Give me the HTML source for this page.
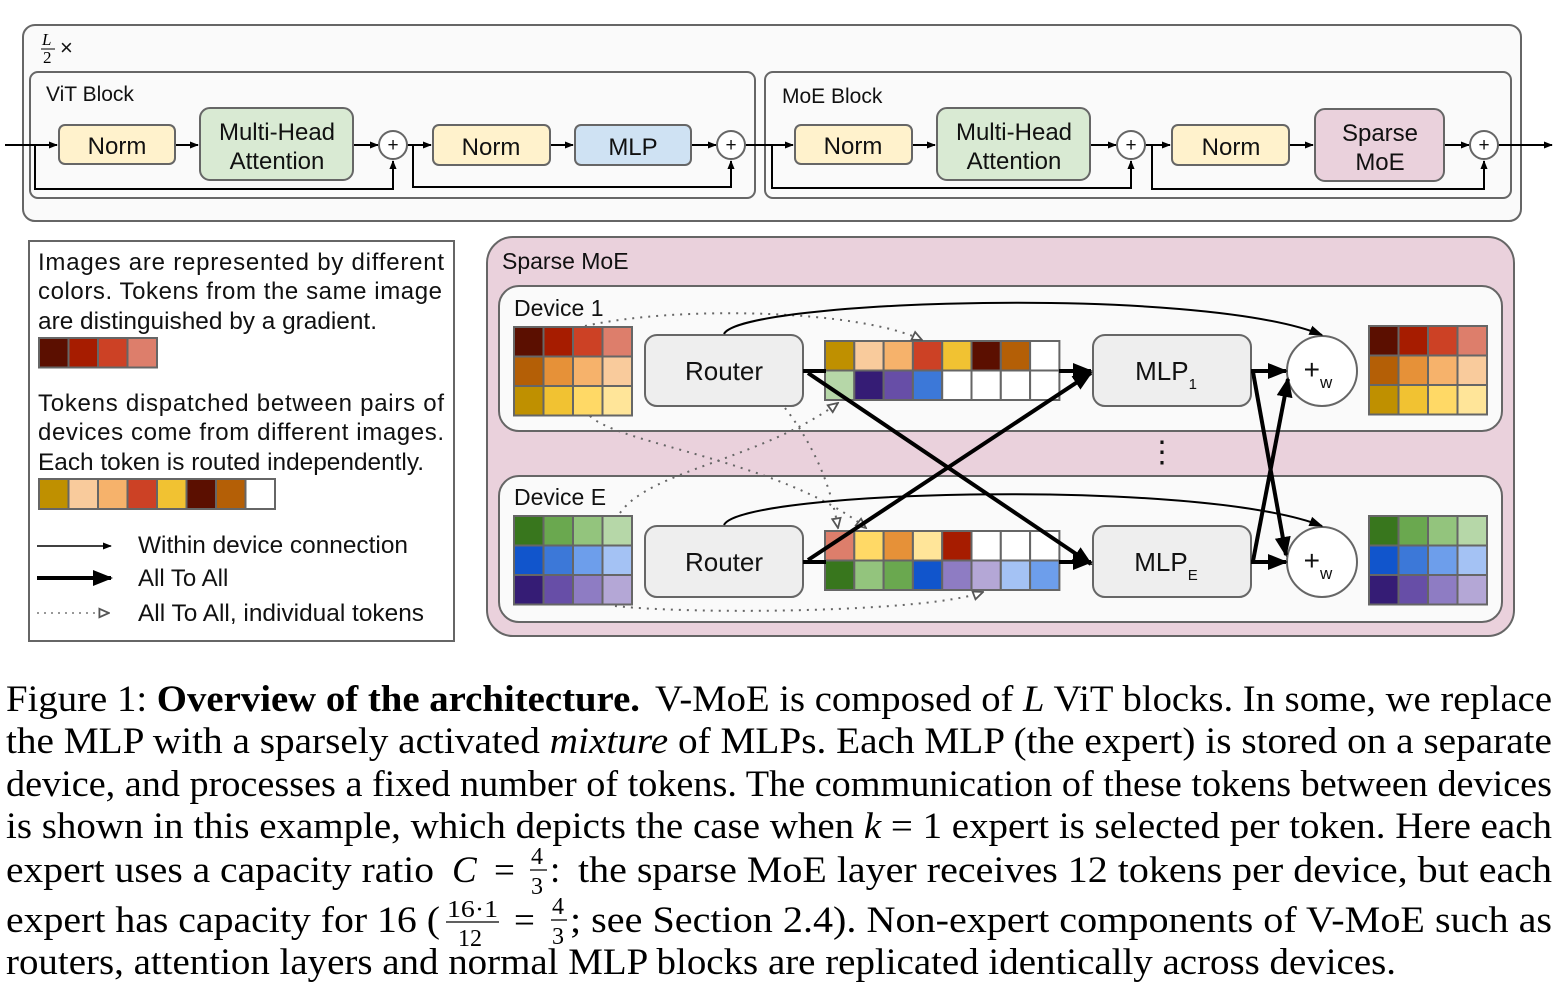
<!DOCTYPE html>
<html><head><meta charset="utf-8"><style>
html,body{margin:0;padding:0;background:#fff;}
svg{display:block;}
.s{font-family:"Liberation Sans",sans-serif;fill:#111;}
.c{font-family:"Liberation Serif",serif;fill:#000;font-size:37px;}
</style></head><body>
<svg width="1558" height="984" viewBox="0 0 1558 984" xmlns="http://www.w3.org/2000/svg">
<defs>
<marker id="ta" viewBox="0 0 10 10" refX="9" refY="5" markerWidth="9" markerHeight="9" markerUnits="userSpaceOnUse" orient="auto"><path d="M0,1 L10,5 L0,9 z" fill="#000"/></marker>
<marker id="ka" viewBox="0 0 10 10" refX="9" refY="5" markerWidth="20" markerHeight="20" markerUnits="userSpaceOnUse" orient="auto"><path d="M0,1 L10,5 L0,9 z" fill="#000"/></marker>
<marker id="da" viewBox="0 0 10 10" refX="9" refY="5" markerWidth="12" markerHeight="12" markerUnits="userSpaceOnUse" orient="auto"><path d="M1,1.5 L9,5 L1,8.5 z" fill="#fff" stroke="#555" stroke-width="1.5"/></marker>
<marker id="la" viewBox="0 0 10 10" refX="9" refY="5" markerWidth="14" markerHeight="14" markerUnits="userSpaceOnUse" orient="auto"><path d="M0,1.5 L10,5 L0,8.5 z" fill="#000"/></marker>
</defs>

<!-- top -->
<rect x="23" y="25" width="1498" height="196" rx="12" fill="#fafafa" stroke="#666" stroke-width="2"/>
<text x="42" y="45" font-family="Liberation Serif,serif" font-style="italic" font-size="17">L</text>
<line x1="41" y1="49" x2="55" y2="49" stroke="#000" stroke-width="1"/>
<text x="43" y="63" font-family="Liberation Serif,serif" font-size="17">2</text>
<text x="60" y="55" class="s" font-size="22">×</text>
<rect x="30" y="72" width="725" height="126" rx="8" fill="#fafafa" stroke="#666" stroke-width="2"/>
<rect x="765" y="72" width="746" height="126" rx="8" fill="#fafafa" stroke="#666" stroke-width="2"/>
<text x="46" y="101" class="s" font-size="21">ViT Block</text>
<text x="782" y="103" class="s" font-size="21">MoE Block</text>

<g stroke="#000" stroke-width="2" fill="none">
<line x1="5" y1="145" x2="57" y2="145" marker-end="url(#ta)"/>
<line x1="175" y1="145" x2="198" y2="145" marker-end="url(#ta)"/>
<line x1="353" y1="145" x2="378" y2="145" marker-end="url(#ta)"/>
<line x1="407" y1="145" x2="431" y2="145" marker-end="url(#ta)"/>
<line x1="550" y1="145" x2="573" y2="145" marker-end="url(#ta)"/>
<line x1="691" y1="145" x2="716" y2="145" marker-end="url(#ta)"/>
<line x1="745" y1="145" x2="793" y2="145" marker-end="url(#ta)"/>
<line x1="912" y1="145" x2="935" y2="145" marker-end="url(#ta)"/>
<line x1="1090" y1="145" x2="1116" y2="145" marker-end="url(#ta)"/>
<line x1="1145" y1="145" x2="1170" y2="145" marker-end="url(#ta)"/>
<line x1="1289" y1="145" x2="1313" y2="145" marker-end="url(#ta)"/>
<line x1="1444" y1="145" x2="1469" y2="145" marker-end="url(#ta)"/>
<line x1="1498" y1="145" x2="1552" y2="145" marker-end="url(#ta)"/>
<polyline points="35,145 35,189 393,189 393,161" marker-end="url(#ta)"/>
<polyline points="413,145 413,187 731,187 731,161" marker-end="url(#ta)"/>
<polyline points="772,145 772,188 1131,188 1131,161" marker-end="url(#ta)"/>
<polyline points="1152,145 1152,189 1484,189 1484,161" marker-end="url(#ta)"/>
</g>
<g stroke="#666" stroke-width="2">
<rect x="59" y="125" width="116" height="39" rx="6" fill="#fff2cc"/>
<rect x="200" y="108" width="153" height="72" rx="10" fill="#d9ead3"/>
<rect x="433" y="125" width="117" height="40" rx="6" fill="#fff2cc"/>
<rect x="575" y="125" width="116" height="40" rx="6" fill="#cfe2f3"/>
<rect x="795" y="125" width="117" height="39" rx="6" fill="#fff2cc"/>
<rect x="937" y="108" width="153" height="72" rx="10" fill="#d9ead3"/>
<rect x="1172" y="125" width="117" height="40" rx="6" fill="#fff2cc"/>
<rect x="1315" y="109" width="129" height="72" rx="10" fill="#ead1dc"/>
<circle cx="393" cy="145" r="14" fill="#fff"/><circle cx="731" cy="145" r="14" fill="#fff"/>
<circle cx="1131" cy="145" r="14" fill="#fff"/><circle cx="1484" cy="145" r="14" fill="#fff"/>
</g>
<g class="s" font-size="24" text-anchor="middle">
<text x="117" y="154">Norm</text>
<text x="277" y="140">Multi-Head</text><text x="277" y="169">Attention</text>
<text x="491" y="155">Norm</text>
<text x="633" y="155">MLP</text>
<text x="853" y="154">Norm</text>
<text x="1014" y="140">Multi-Head</text><text x="1014" y="169">Attention</text>
<text x="1231" y="155">Norm</text>
<text x="1380" y="141">Sparse</text><text x="1380" y="170">MoE</text>
<g font-size="19"><text x="393" y="151">+</text><text x="731" y="151">+</text><text x="1131" y="151">+</text><text x="1484" y="151">+</text></g>
</g>

<!-- legend -->
<rect x="29" y="241" width="425" height="400" fill="#fff" stroke="#666" stroke-width="2"/>
<g class="s" font-size="24">
<text x="38" y="270" textLength="406" lengthAdjust="spacing">Images are represented by different</text>
<text x="38" y="299" textLength="404" lengthAdjust="spacing">colors. Tokens from the same image</text>
<text x="38" y="329" textLength="339" lengthAdjust="spacingAndGlyphs">are distinguished by a gradient.</text>
<text x="38" y="411" textLength="406" lengthAdjust="spacing">Tokens dispatched between pairs of</text>
<text x="38" y="440" textLength="406" lengthAdjust="spacing">devices come from different images.</text>
<text x="38" y="470" textLength="386" lengthAdjust="spacingAndGlyphs">Each token is routed independently.</text>
<text x="138" y="553" textLength="270" lengthAdjust="spacingAndGlyphs">Within device connection</text>
<text x="138" y="586">All To All</text>
<text x="138" y="621" textLength="286" lengthAdjust="spacingAndGlyphs">All To All, individual tokens</text>
</g>
<g stroke="#666" stroke-width="2">
<rect x="39" y="338" width="29.5" height="29.5" fill="#5b0f00"/><rect x="68.5" y="338" width="29.5" height="29.5" fill="#a61c00"/><rect x="98" y="338" width="29.5" height="29.5" fill="#cc4125"/><rect x="127.5" y="338" width="29.5" height="29.5" fill="#dd7e6b"/>
<rect x="39" y="479" width="29.5" height="30" fill="#bf9000"/><rect x="68.5" y="479" width="29.5" height="30" fill="#f9cb9c"/><rect x="98" y="479" width="29.5" height="30" fill="#f6b26b"/><rect x="127.5" y="479" width="29.5" height="30" fill="#cc4125"/><rect x="157" y="479" width="29.5" height="30" fill="#f1c232"/><rect x="186.5" y="479" width="29.5" height="30" fill="#5b0f00"/><rect x="216" y="479" width="29.5" height="30" fill="#b45f06"/><rect x="245.5" y="479" width="29.5" height="30" fill="#fff"/>
</g>
<line x1="37" y1="546" x2="111" y2="546" stroke="#000" stroke-width="1.5" marker-end="url(#ta)"/>
<line x1="37" y1="578" x2="111" y2="578" stroke="#000" stroke-width="4" marker-end="url(#ka)"/>
<line x1="37" y1="613" x2="109" y2="613" stroke="#777" stroke-width="1.5" stroke-dasharray="2,5" marker-end="url(#da)"/>

<!-- sparse moe -->
<rect x="487" y="237" width="1027" height="399" rx="26" fill="#ead1dc" stroke="#666" stroke-width="2"/>
<text x="502" y="269" class="s" font-size="23">Sparse MoE</text>
<rect x="499" y="286" width="1003" height="145" rx="20" fill="#fafafa" stroke="#666" stroke-width="2"/>
<rect x="499" y="476" width="1003" height="146" rx="20" fill="#fafafa" stroke="#666" stroke-width="2"/>
<text x="514" y="316" class="s" font-size="23">Device 1</text>
<text x="514" y="505" class="s" font-size="23">Device E</text>
<text x="1162" y="462" class="s" font-size="30" text-anchor="middle">⋮</text>

<g stroke="#666" stroke-width="2">
<g transform="translate(514,327)">
<rect x="0" y="0" width="29.5" height="29.5" fill="#5b0f00"/><rect x="29.5" y="0" width="29.5" height="29.5" fill="#a61c00"/><rect x="59" y="0" width="29.5" height="29.5" fill="#cc4125"/><rect x="88.5" y="0" width="29.5" height="29.5" fill="#dd7e6b"/>
<rect x="0" y="29.5" width="29.5" height="29.5" fill="#b45f06"/><rect x="29.5" y="29.5" width="29.5" height="29.5" fill="#e69138"/><rect x="59" y="29.5" width="29.5" height="29.5" fill="#f6b26b"/><rect x="88.5" y="29.5" width="29.5" height="29.5" fill="#f9cb9c"/>
<rect x="0" y="59" width="29.5" height="29.5" fill="#bf9000"/><rect x="29.5" y="59" width="29.5" height="29.5" fill="#f1c232"/><rect x="59" y="59" width="29.5" height="29.5" fill="#ffd966"/><rect x="88.5" y="59" width="29.5" height="29.5" fill="#ffe599"/>
</g>
<g transform="translate(1369,326)">
<rect x="0" y="0" width="29.5" height="29.5" fill="#5b0f00"/><rect x="29.5" y="0" width="29.5" height="29.5" fill="#a61c00"/><rect x="59" y="0" width="29.5" height="29.5" fill="#cc4125"/><rect x="88.5" y="0" width="29.5" height="29.5" fill="#dd7e6b"/>
<rect x="0" y="29.5" width="29.5" height="29.5" fill="#b45f06"/><rect x="29.5" y="29.5" width="29.5" height="29.5" fill="#e69138"/><rect x="59" y="29.5" width="29.5" height="29.5" fill="#f6b26b"/><rect x="88.5" y="29.5" width="29.5" height="29.5" fill="#f9cb9c"/>
<rect x="0" y="59" width="29.5" height="29.5" fill="#bf9000"/><rect x="29.5" y="59" width="29.5" height="29.5" fill="#f1c232"/><rect x="59" y="59" width="29.5" height="29.5" fill="#ffd966"/><rect x="88.5" y="59" width="29.5" height="29.5" fill="#ffe599"/>
</g>
<g transform="translate(514,516)">
<rect x="0" y="0" width="29.5" height="29.5" fill="#38761d"/><rect x="29.5" y="0" width="29.5" height="29.5" fill="#6aa84f"/><rect x="59" y="0" width="29.5" height="29.5" fill="#93c47d"/><rect x="88.5" y="0" width="29.5" height="29.5" fill="#b6d7a8"/>
<rect x="0" y="29.5" width="29.5" height="29.5" fill="#1155cc"/><rect x="29.5" y="29.5" width="29.5" height="29.5" fill="#3c78d8"/><rect x="59" y="29.5" width="29.5" height="29.5" fill="#6d9eeb"/><rect x="88.5" y="29.5" width="29.5" height="29.5" fill="#a4c2f4"/>
<rect x="0" y="59" width="29.5" height="29.5" fill="#351c75"/><rect x="29.5" y="59" width="29.5" height="29.5" fill="#674ea7"/><rect x="59" y="59" width="29.5" height="29.5" fill="#8e7cc3"/><rect x="88.5" y="59" width="29.5" height="29.5" fill="#b4a7d6"/>
</g>
<g transform="translate(1369,516)">
<rect x="0" y="0" width="29.5" height="29.5" fill="#38761d"/><rect x="29.5" y="0" width="29.5" height="29.5" fill="#6aa84f"/><rect x="59" y="0" width="29.5" height="29.5" fill="#93c47d"/><rect x="88.5" y="0" width="29.5" height="29.5" fill="#b6d7a8"/>
<rect x="0" y="29.5" width="29.5" height="29.5" fill="#1155cc"/><rect x="29.5" y="29.5" width="29.5" height="29.5" fill="#3c78d8"/><rect x="59" y="29.5" width="29.5" height="29.5" fill="#6d9eeb"/><rect x="88.5" y="29.5" width="29.5" height="29.5" fill="#a4c2f4"/>
<rect x="0" y="59" width="29.5" height="29.5" fill="#351c75"/><rect x="29.5" y="59" width="29.5" height="29.5" fill="#674ea7"/><rect x="59" y="59" width="29.5" height="29.5" fill="#8e7cc3"/><rect x="88.5" y="59" width="29.5" height="29.5" fill="#b4a7d6"/>
</g>
<g transform="translate(825,341)">
<rect x="0" y="0" width="29.3" height="29.5" fill="#bf9000"/><rect x="29.3" y="0" width="29.3" height="29.5" fill="#f9cb9c"/><rect x="58.6" y="0" width="29.3" height="29.5" fill="#f6b26b"/><rect x="87.9" y="0" width="29.3" height="29.5" fill="#cc4125"/><rect x="117.2" y="0" width="29.3" height="29.5" fill="#f1c232"/><rect x="146.5" y="0" width="29.3" height="29.5" fill="#5b0f00"/><rect x="175.8" y="0" width="29.3" height="29.5" fill="#b45f06"/><rect x="205.1" y="0" width="29.3" height="29.5" fill="#fff"/>
<rect x="0" y="29.5" width="29.3" height="29.5" fill="#b6d7a8"/><rect x="29.3" y="29.5" width="29.3" height="29.5" fill="#351c75"/><rect x="58.6" y="29.5" width="29.3" height="29.5" fill="#674ea7"/><rect x="87.9" y="29.5" width="29.3" height="29.5" fill="#3c78d8"/><rect x="117.2" y="29.5" width="29.3" height="29.5" fill="#fff"/><rect x="146.5" y="29.5" width="29.3" height="29.5" fill="#fff"/><rect x="175.8" y="29.5" width="29.3" height="29.5" fill="#fff"/><rect x="205.1" y="29.5" width="29.3" height="29.5" fill="#fff"/>
</g>
<g transform="translate(825,531)">
<rect x="0" y="0" width="29.3" height="29.5" fill="#dd7e6b"/><rect x="29.3" y="0" width="29.3" height="29.5" fill="#ffd966"/><rect x="58.6" y="0" width="29.3" height="29.5" fill="#e69138"/><rect x="87.9" y="0" width="29.3" height="29.5" fill="#ffe599"/><rect x="117.2" y="0" width="29.3" height="29.5" fill="#a61c00"/><rect x="146.5" y="0" width="29.3" height="29.5" fill="#fff"/><rect x="175.8" y="0" width="29.3" height="29.5" fill="#fff"/><rect x="205.1" y="0" width="29.3" height="29.5" fill="#fff"/>
<rect x="0" y="29.5" width="29.3" height="29.5" fill="#38761d"/><rect x="29.3" y="29.5" width="29.3" height="29.5" fill="#93c47d"/><rect x="58.6" y="29.5" width="29.3" height="29.5" fill="#6aa84f"/><rect x="87.9" y="29.5" width="29.3" height="29.5" fill="#1155cc"/><rect x="117.2" y="29.5" width="29.3" height="29.5" fill="#8e7cc3"/><rect x="146.5" y="29.5" width="29.3" height="29.5" fill="#b4a7d6"/><rect x="175.8" y="29.5" width="29.3" height="29.5" fill="#a4c2f4"/><rect x="205.1" y="29.5" width="29.3" height="29.5" fill="#6d9eeb"/>
</g>
</g>

<g fill="none" stroke="#666" stroke-width="2" stroke-dasharray="2,6">
<path d="M585,326 C680,305 860,310 922,340" marker-end="url(#da)"/>
<path d="M590,416 C620,445 780,460 866,528" marker-end="url(#da)"/>
<path d="M785,408 C810,440 830,480 838,528" marker-end="url(#da)"/>
<path d="M620,513 C650,470 760,460 838,403" marker-end="url(#da)"/>
<path d="M615,606 C700,615 930,612 983,592" marker-end="url(#da)"/>
</g>

<g stroke="#666" stroke-width="2" fill="#eeeeee">
<rect x="645" y="335" width="158" height="71" rx="12"/>
<rect x="645" y="526" width="158" height="71" rx="12"/>
<rect x="1093" y="335" width="158" height="71" rx="12"/>
<rect x="1093" y="526" width="158" height="71" rx="12"/>
<circle cx="1322" cy="371" r="35" fill="#fff"/>
<circle cx="1322" cy="562" r="35" fill="#fff"/>
</g>
<g class="s" font-size="26" text-anchor="middle">
<text x="724" y="380">Router</text><text x="724" y="571">Router</text>
<text x="1166" y="380">MLP<tspan font-size="15" dy="9">1</tspan></text>
<text x="1166" y="571">MLP<tspan font-size="15" dy="9">E</tspan></text>
<text x="1318" y="379" font-size="28">+<tspan font-size="17" dy="9">w</tspan></text>
<text x="1318" y="570" font-size="28">+<tspan font-size="17" dy="9">w</tspan></text>
</g>

<g fill="none" stroke="#000" stroke-width="2">
<path d="M724,334 C740,300 1200,285 1322,335" marker-end="url(#la)"/>
<path d="M724,525 C740,490 1200,478 1322,526" marker-end="url(#la)"/>
</g>
<g fill="none" stroke="#000" stroke-width="4">
<line x1="803" y1="371" x2="826" y2="371"/>
<line x1="803" y1="562" x2="826" y2="562"/>
<line x1="1059" y1="371" x2="1091" y2="371" marker-end="url(#ka)"/>
<line x1="1059" y1="562" x2="1091" y2="562" marker-end="url(#ka)"/>
<line x1="808" y1="373" x2="1091" y2="564" marker-end="url(#ka)"/>
<line x1="808" y1="560" x2="1091" y2="373" marker-end="url(#ka)"/>
<line x1="1251" y1="371" x2="1286" y2="371" marker-end="url(#ka)"/>
<line x1="1251" y1="562" x2="1286" y2="562" marker-end="url(#ka)"/>
<line x1="1253" y1="372" x2="1286" y2="555" marker-end="url(#ka)"/>
<line x1="1253" y1="561" x2="1288" y2="379" marker-end="url(#ka)"/>
</g>

<g class="c">
<text x="6" y="711" textLength="634" lengthAdjust="spacingAndGlyphs">Figure 1: <tspan font-weight="bold">Overview of the architecture.</tspan></text>
<text x="655" y="711" textLength="897" lengthAdjust="spacingAndGlyphs">V-MoE is composed of <tspan font-style="italic">L</tspan> ViT blocks. In some, we replace</text>
<text x="6" y="753" textLength="1546" lengthAdjust="spacingAndGlyphs">the MLP with a sparsely activated <tspan font-style="italic">mixture</tspan> of MLPs. Each MLP (the expert) is stored on a separate</text>
<text x="6" y="796" textLength="1546" lengthAdjust="spacingAndGlyphs">device, and processes a fixed number of tokens. The communication of these tokens between devices</text>
<text x="6" y="838" textLength="1546" lengthAdjust="spacingAndGlyphs">is shown in this example, which depicts the case when <tspan font-style="italic">k</tspan> = 1 expert is selected per token. Here each</text>
<text x="6" y="882" textLength="428" lengthAdjust="spacingAndGlyphs">expert uses a capacity ratio</text>
<text x="452" y="882" font-style="italic">C</text>
<text x="494" y="882">=</text>
<text x="531" y="864" font-size="24">4</text><line x1="530" y1="870" x2="547" y2="870" stroke="#000" stroke-width="1.3"/><text x="531" y="894" font-size="24">3</text>
<text x="550" y="882">:</text>
<text x="578" y="882" textLength="974" lengthAdjust="spacingAndGlyphs">the sparse MoE layer receives 12 tokens per device, but each</text>
<text x="6" y="932" textLength="434" lengthAdjust="spacingAndGlyphs">expert has capacity for 16 (</text>
<text x="447" y="917" font-size="24" textLength="51" lengthAdjust="spacingAndGlyphs">16·1</text><line x1="446" y1="922" x2="499" y2="922" stroke="#000" stroke-width="1.3"/><text x="458" y="946" font-size="24">12</text>
<text x="514" y="932">=</text>
<text x="552" y="914" font-size="24">4</text><line x1="551" y1="920" x2="567" y2="920" stroke="#000" stroke-width="1.3"/><text x="552" y="944" font-size="24">3</text>
<text x="570" y="932" textLength="982" lengthAdjust="spacingAndGlyphs">; see Section 2.4). Non-expert components of V-MoE such as</text>
<text x="6" y="974" textLength="1390" lengthAdjust="spacingAndGlyphs">routers, attention layers and normal MLP blocks are replicated identically across devices.</text>
</g>
</svg>
</body></html>
